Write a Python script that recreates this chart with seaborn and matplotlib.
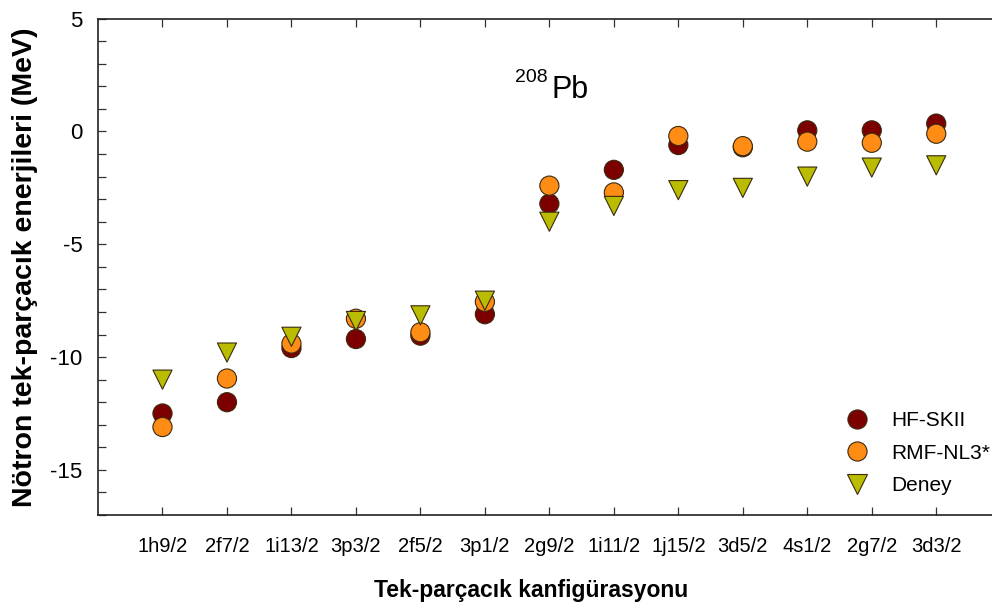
import numpy as np
import pandas as pd
import matplotlib
matplotlib.use("Agg")
import matplotlib.pyplot as plt
from matplotlib.ticker import MultipleLocator
import seaborn as sns

# single-particle neutron levels of 208Pb
configs = ["1h9/2", "2f7/2", "1i13/2", "3p3/2", "2f5/2", "3p1/2", "2g9/2",
           "1i11/2", "1j15/2", "3d5/2", "4s1/2", "2g7/2", "3d3/2"]
hf_skii = [-12.5, -12.0, -9.6, -9.2, -9.05, -8.1, -3.2, -1.7, -0.6, -0.7, 0.05, 0.05, 0.35]
rmf_nl3 = [-13.1, -10.95, -9.4, -8.3, -8.9, -7.55, -2.4, -2.7, -0.2, -0.65, -0.45, -0.5, -0.1]
deney = [-11.0, -9.8, -9.1, -8.4, -8.15, -7.5, -4.0, -3.3, -2.6, -2.5, -2.0, -1.6, -1.5]

models = ["HF-SKII", "RMF-NL3*", "Deney"]
colors = {"HF-SKII": "#7d0000", "RMF-NL3*": "#ff8c14", "Deney": "#b9bc00"}
markers = {"HF-SKII": "o", "RMF-NL3*": "o", "Deney": "v"}

df = pd.DataFrame({
    "config": configs * 3,
    "energy": hf_skii + rmf_nl3 + deney,
    "model": np.repeat(models, len(configs)),
})

sns.set_style("ticks")
plt.rcParams["font.family"] = ["Liberation Sans", "DejaVu Sans"]
plt.rcParams["axes.unicode_minus"] = False
plt.rcParams["text.color"] = "black"
plt.rcParams["axes.labelcolor"] = "black"
plt.rcParams["xtick.labelcolor"] = "black"
plt.rcParams["ytick.labelcolor"] = "black"

fig = plt.figure(figsize=(9.92, 6.15), dpi=100)
ax = fig.add_axes([0.0988, 0.1626, 0.910, 0.807])

sns.scatterplot(data=df, x="config", y="energy", hue="model", style="model",
                palette=colors, markers=markers, s=190, edgecolor="#3a2a10",
                linewidth=0.8, ax=ax, zorder=3)

ax.set_xlim(-1, 13)
ax.set_ylim(-17, 5)
ax.set_yticks([5, 0, -5, -10, -15])
ax.yaxis.set_minor_locator(MultipleLocator(1))
ax.tick_params(axis="both", which="both", direction="in", top=True, right=True,
               length=6, width=0.9, color="#333333")
ax.tick_params(axis="x", labelsize=14.5, pad=16)
ax.tick_params(axis="y", labelsize=16, pad=11)
for sp in ax.spines.values():
    sp.set_linewidth(1.2)
    sp.set_color("#222222")

ax.set_xlabel("Tek-parçacık kanfigürasyonu", fontsize=16.5, fontweight="bold")
ax.set_ylabel("Nötron tek-parçacık enerjileri (MeV)", fontsize=20.5, fontweight="bold")
ax.xaxis.set_label_coords((531 - 98) / 903, -0.128)
ax.yaxis.set_label_coords(-0.066, 0.5)

fig.text(0.519, 0.867, "208", fontsize=14, ha="left", va="baseline")
fig.text(0.556, 0.841, "Pb", fontsize=22, ha="left", va="baseline")

ax.legend(frameon=False, loc="upper left", bbox_to_anchor=(0.835, 0.345),
          bbox_transform=fig.transFigure, fontsize=15, handletextpad=0.6,
          labelspacing=0.65, markerscale=1.0, borderaxespad=0)

fig.savefig("out.png", dpi=100)
